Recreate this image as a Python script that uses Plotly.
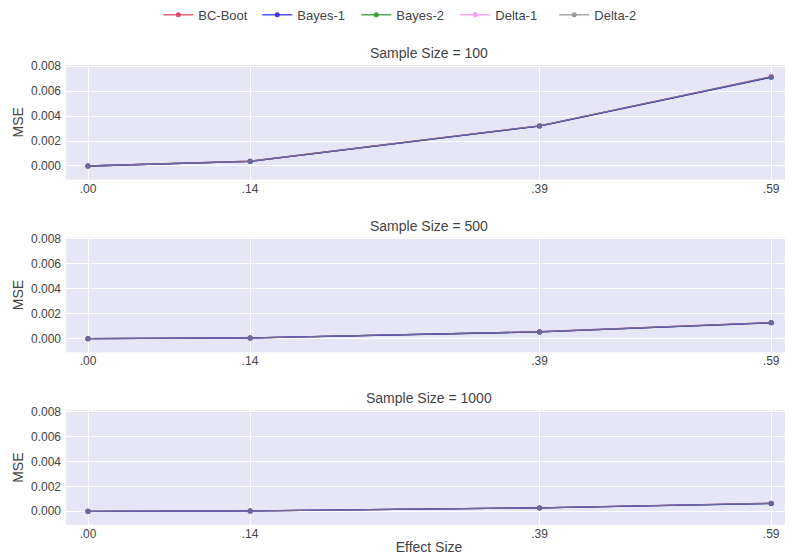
import plotly.graph_objects as go
from plotly.subplots import make_subplots

effect_sizes = [0.00, 0.14, 0.39, 0.59]
effect_labels = [".00", ".14", ".39", ".59"]
sample_sizes = [100, 500, 1000]
methods = ["BC-Boot", "Bayes-1", "Bayes-2", "Delta-1", "Delta-2"]
colors = ["crimson", "blue", "green", "violet", "gray"]

# MSE by method, for each sample size
mse_n100 = {
    "BC-Boot": [0.00000, 0.00038, 0.00322, 0.00715],
    "Bayes-1": [0.00000, 0.00037, 0.00320, 0.00712],
    "Bayes-2": [0.00000, 0.00037, 0.00321, 0.00713],
    "Delta-1": [0.00000, 0.00038, 0.00322, 0.00716],
    "Delta-2": [0.00000, 0.00038, 0.00322, 0.00716],
}
mse_n500 = {
    "BC-Boot": [0.00000, 0.00006, 0.00055, 0.00128],
    "Bayes-1": [0.00000, 0.00006, 0.00054, 0.00127],
    "Bayes-2": [0.00000, 0.00006, 0.00054, 0.00127],
    "Delta-1": [0.00000, 0.00006, 0.00055, 0.00128],
    "Delta-2": [0.00000, 0.00006, 0.00055, 0.00128],
}
mse_n1000 = {
    "BC-Boot": [0.00000, 0.00003, 0.00027, 0.00064],
    "Bayes-1": [0.00000, 0.00003, 0.00027, 0.00063],
    "Bayes-2": [0.00000, 0.00003, 0.00027, 0.00063],
    "Delta-1": [0.00000, 0.00003, 0.00027, 0.00064],
    "Delta-2": [0.00000, 0.00003, 0.00027, 0.00064],
}
panels = [mse_n100, mse_n500, mse_n1000]

y_ticks = [0.000, 0.002, 0.004, 0.006, 0.008]

# drawing order (legend order is kept via legendrank)
draw_order = ["BC-Boot", "Bayes-2", "Delta-1", "Bayes-1", "Delta-2"]

fig = make_subplots(
    rows=3, cols=1,
    subplot_titles=[f"Sample Size = {n}" for n in sample_sizes],
    vertical_spacing=0.126,
)

for r, data in enumerate(panels, start=1):
    for m in draw_order:
        i = methods.index(m)
        c = colors[i]
        fig.add_trace(
            go.Scatter(
                x=effect_sizes, y=data[m], mode="lines+markers", name=m,
                line=dict(color=c, width=1.3), marker=dict(color=c, size=5),
                opacity=0.78, legendgroup=m, legendrank=i + 1,
                showlegend=(r == 1),
            ),
            row=r, col=1,
        )
    fig.update_xaxes(
        tickvals=effect_sizes, ticktext=effect_labels, range=[-0.019, 0.608],
        tickfont=dict(size=12), zeroline=False, automargin=False,
        gridcolor="white", row=r, col=1,
    )
    fig.update_yaxes(
        tickvals=y_ticks, tickformat=".3f", range=[-0.0011, 0.0081],
        title=dict(text="MSE", font=dict(size=14), standoff=4),
        tickfont=dict(size=12), zeroline=False, automargin=False,
        ticklabelstandoff=4, gridcolor="white", row=r, col=1,
    )

fig.update_xaxes(title=dict(text="Effect Size", font=dict(size=14), standoff=2), row=3, col=1)

for a in fig.layout.annotations:
    a.font = dict(size=14, color="#444")
    a.yshift = 2

fig.update_layout(
    template="plotly",
    width=785, height=552,
    font=dict(family="Liberation Sans, Arial, sans-serif", color="#444"),
    margin=dict(l=58, r=1, t=57, b=35, autoexpand=False),
    legend=dict(orientation="h", x=0.468, xanchor="center", y=1.109, yanchor="middle",
                font=dict(size=13), entrywidth=54),
    plot_bgcolor="#E7E6F7",
)

fig.write_html("out.html")
